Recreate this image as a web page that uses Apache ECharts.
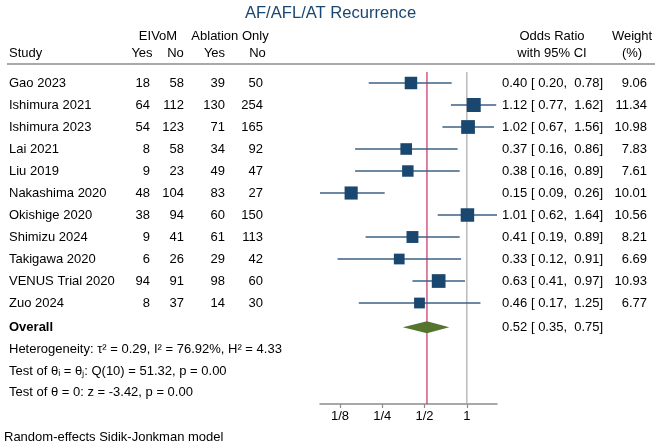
<!DOCTYPE html>
<html>
<head>
<meta charset="utf-8">
<title>AF/AFL/AT Recurrence</title>
<script src="https://cdn.jsdelivr.net/npm/echarts@6.0.0/dist/echarts.min.js"></script>
<style>html,body{margin:0;padding:0;background:#fff}</style>
</head>
<body>
<div id="main" style="width:661px;height:448px"></div>
<script>
// study table
var studies = ['Gao 2023', 'Ishimura 2021', 'Ishimura 2023', 'Lai 2021', 'Liu 2019', 'Nakashima 2020',
    'Okishige 2020', 'Shimizu 2024', 'Takigawa 2020', 'VENUS Trial 2020', 'Zuo 2024'];
var eivomYes = [18, 64, 54, 8, 9, 48, 38, 9, 6, 94, 8];
var eivomNo = [58, 112, 123, 58, 23, 104, 94, 41, 26, 91, 37];
var ablYes = [39, 130, 71, 34, 49, 83, 60, 61, 29, 98, 14];
var ablNo = [50, 254, 165, 92, 47, 27, 150, 113, 42, 60, 30];
var orVal = [0.40, 1.12, 1.02, 0.37, 0.38, 0.15, 1.01, 0.41, 0.33, 0.63, 0.46];
var ciLow = [0.20, 0.77, 0.67, 0.16, 0.16, 0.09, 0.62, 0.19, 0.12, 0.41, 0.17];
var ciHigh = [0.78, 1.62, 1.56, 0.86, 0.89, 0.26, 1.64, 0.89, 0.91, 0.97, 1.25];
var weights = [9.06, 11.34, 10.98, 7.83, 7.61, 10.01, 10.56, 8.21, 6.69, 10.93, 6.77];

// overall estimate: OR, low, high
var overall = [0.52, 0.35, 0.75];
var tau2 = 0.29, iSq = 76.92, hSq = 4.33, qStat = 51.32, qDf = 10, pQ = 0.00, zStat = -3.42, pZ = 0.00;

var tickValues = [0.125, 0.25, 0.5, 1];
var tickLabels = ['1/8', '1/4', '1/2', '1'];

var FONT = '"Liberation Sans", Arial, sans-serif';
var log2 = function (v) { return Math.log(v) / Math.LN2; };
var f2 = function (v) { return v.toFixed(2); };
var ciText = function (o, l, h) { return f2(o) + ' [ ' + f2(l) + ',  ' + f2(h) + ']'; };

var rows = studies.map(function (s, i) {
    return [log2(ciLow[i]), log2(ciHigh[i]), log2(orVal[i]), i];
});
var xMin = log2(Math.min.apply(null, ciLow));
var xMax = log2(Math.max.apply(null, ciHigh));
var overallRow = 11.1;

function txt(x, y, text, align, bold) {
    return {
        type: 'text',
        style: {
            x: x, y: y, text: String(text), align: align || 'left', verticalAlign: 'middle',
            fontSize: 13, fontFamily: FONT, fontWeight: bold ? 'bold' : 'normal', fill: '#000'
        }
    };
}

var myChart = echarts.init(document.getElementById('main'), null, { renderer: 'canvas' });

var option = {
    animation: false,
    title: {
        text: 'AF/AFL/AT Recurrence',
        left: 'center',
        top: 0,
        textStyle: { fontSize: 16.6, fontWeight: 'normal', color: '#1a476f', fontFamily: FONT }
    },
    grid: { left: 320, top: 72, width: 177, height: 332 },
    xAxis: {
        type: 'value',
        min: xMin,
        max: xMax,
        splitLine: { show: false },
        axisLine: { onZero: false, lineStyle: { color: '#8c8c8c', width: 1.5 } },
        axisTick: {
            customValues: tickValues.map(log2),
            length: 4,
            lineStyle: { color: '#8c8c8c', width: 1.2 }
        },
        axisLabel: {
            customValues: tickValues.map(log2),
            color: '#000',
            fontSize: 13,
            fontFamily: FONT,
            margin: 6,
            formatter: function (v) {
                for (var k = 0; k < tickValues.length; k++) {
                    if (Math.abs(log2(tickValues[k]) - v) < 1e-6) return tickLabels[k];
                }
                return '';
            }
        }
    },
    yAxis: { type: 'value', inverse: true, min: -0.5, max: 14.59, show: false },
    graphic: [
        txt(158, 36, 'EIVoM', 'center'),
        txt(230, 36, 'Ablation Only', 'center'),
        txt(9, 53, 'Study', 'left'),
        txt(142, 53, 'Yes', 'center'),
        txt(175.5, 53, 'No', 'center'),
        txt(214.5, 53, 'Yes', 'center'),
        txt(257.5, 53, 'No', 'center'),
        txt(552, 36, 'Odds Ratio', 'center'),
        txt(552, 53, 'with 95% CI', 'center'),
        txt(632, 36, 'Weight', 'center'),
        txt(632, 53, '(%)', 'center'),
        { type: 'line', shape: { x1: 7, y1: 64, x2: 655, y2: 64 }, style: { stroke: '#8c8c8c', lineWidth: 1.5 } },
        txt(9, 349, 'Heterogeneity: \u03c4\u00b2 = ' + f2(tau2) + ', I\u00b2 = ' + f2(iSq) + '%, H\u00b2 = ' + f2(hSq), 'left'),
        txt(9, 371, 'Test of \u03b8\u1d62 = \u03b8\u2c7c: Q(' + qDf + ') = ' + f2(qStat) + ', p = ' + f2(pQ), 'left'),
        txt(9, 392, 'Test of \u03b8 = 0: z = ' + f2(zStat) + ', p = ' + f2(pZ), 'left'),
        txt(4, 437, 'Random-effects Sidik-Jonkman model', 'left')
    ],
    series: [
        {
            // reference lines: overall estimate and no effect
            type: 'custom',
            z: 1,
            silent: true,
            data: [[log2(overall[0]), 0], [0, 1]],
            renderItem: function (params, api) {
                var cs = params.coordSys;
                var x = api.coord([api.value(0), 0])[0];
                return {
                    type: 'line',
                    shape: { x1: x, y1: cs.y, x2: x, y2: cs.y + cs.height },
                    style: { stroke: api.value(1) === 0 ? '#c8306a' : '#ababab', lineWidth: 1.2 }
                };
            }
        },
        {
            type: 'custom',
            clip: false,
            z: 3,
            data: rows,
            renderItem: function (params, api) {
                var i = params.dataIndex;
                var lo = api.coord([api.value(0), api.value(3)]);
                var hi = api.coord([api.value(1), api.value(3)]);
                var c = api.coord([api.value(2), api.value(3)]);
                var y = c[1];
                var side = 4.15 * Math.sqrt(weights[i]);
                return {
                    type: 'group',
                    children: [
                        { type: 'line', shape: { x1: lo[0], y1: y, x2: hi[0], y2: y }, style: { stroke: '#3d6185', lineWidth: 1.4 } },
                        { type: 'rect', shape: { x: c[0] - side / 2, y: y - side / 2, width: side, height: side }, style: { fill: '#1a476f' } },
                        txt(9, y, studies[i], 'left'),
                        txt(150, y, eivomYes[i], 'right'),
                        txt(184, y, eivomNo[i], 'right'),
                        txt(225, y, ablYes[i], 'right'),
                        txt(263, y, ablNo[i], 'right'),
                        txt(502, y, ciText(orVal[i], ciLow[i], ciHigh[i]), 'left'),
                        txt(647, y, f2(weights[i]), 'right')
                    ]
                };
            }
        },
        {
            type: 'custom',
            clip: false,
            z: 3,
            data: [[log2(overall[1]), log2(overall[0]), log2(overall[2]), overallRow]],
            renderItem: function (params, api) {
                var l = api.coord([api.value(0), api.value(3)]);
                var m = api.coord([api.value(1), api.value(3)]);
                var h = api.coord([api.value(2), api.value(3)]);
                var y = m[1];
                return {
                    type: 'group',
                    children: [
                        { type: 'polygon', shape: { points: [[l[0], y], [m[0], y - 6], [h[0], y], [m[0], y + 6]] }, style: { fill: '#55752f' } },
                        txt(9, y, 'Overall', 'left', true),
                        txt(502, y, ciText(overall[0], overall[1], overall[2]), 'left')
                    ]
                };
            }
        }
    ]
};

myChart.setOption(option);
</script>
</body>
</html>
